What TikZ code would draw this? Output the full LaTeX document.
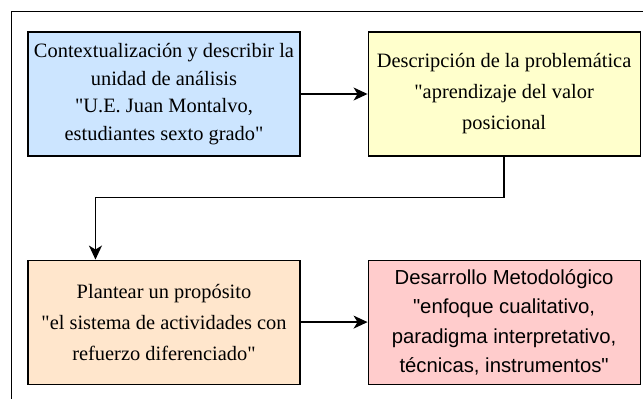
\documentclass[tikz,border=0pt]{standalone}
\usepackage{fontspec}
\setmainfont{Liberation Serif}[Ligatures=TeXOff]
\newfontfamily\arialfont{Liberation Sans}[Ligatures=TeXOff]
\usetikzlibrary{positioning,arrows.meta}
\definecolor{boxblue}{HTML}{CCE5FF}
\definecolor{boxyellow}{HTML}{FFFFCC}
\definecolor{boxorange}{HTML}{FFE6CC}
\definecolor{boxred}{HTML}{FFCCCC}
\tikzset{
  stage/.style={draw, line width=1.1pt, minimum width=272pt, minimum height=124pt,
    inner sep=2pt, align=center, font=\fontsize{20.4}{27.5}\selectfont},
  wide/.style={font=\fontsize{20.4}{31}\selectfont},
  link/.style={line width=1.3pt, -{Stealth[length=14pt,width=13pt,inset=4pt]}}
}
\begin{document}
\begin{tikzpicture}[x=1pt, y=-1pt, node distance=103pt and 67pt]
    \useasboundingbox (0,0) rectangle (643,399);
    \clip (0,0) rectangle (643,399);
    \draw[line width=0.9pt] (11,11) rectangle (660,420);

    \node (1) [stage, fill=boxblue] at (164,94) {Contextualización y describir la\\ unidad de análisis\\ "U.E. Juan Montalvo,\\ estudiantes sexto grado"};
    \node (2) [stage, wide, fill=boxyellow, right = of 1] {Descripción de la problemática\\ "aprendizaje del valor\\ posicional};
    \node (3) [stage, wide, fill=boxorange, below = of 1] {Plantear un propósito\\ "el sistema de actividades con\\ refuerzo diferenciado"};
    \node (4) [stage, fill=boxred, right = of 3, font=\arialfont\fontsize{20.3}{29.5}\selectfont] {Desarrollo Metodológico\\ "enfoque cualitativo,\\ paradigma interpretativo,\\ técnicas, instrumentos"};

    \draw[link] (1) -- (2);
    \draw[link] (2.south) -- ++(0,41) -| ([xshift=68pt]3.north west);
    \draw[link] (3) -- (4);
\end{tikzpicture}
\end{document}
